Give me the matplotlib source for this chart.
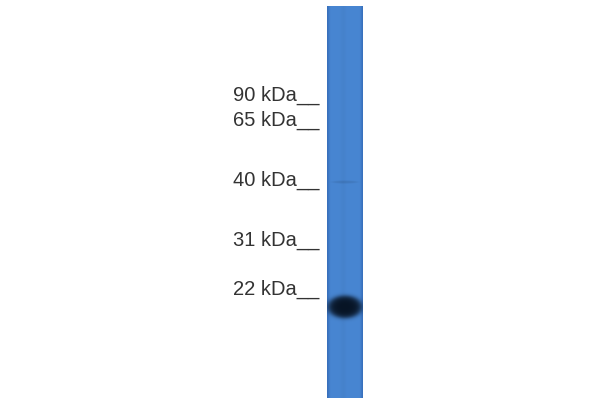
import numpy as np
import matplotlib
matplotlib.use("Agg")
import matplotlib.pyplot as plt

# Marker labels and their vertical positions (pixel rows in a 600x400 canvas)
marker_labels = ["90 kDa", "65 kDa", "40 kDa", "31 kDa", "22 kDa"]
marker_rows = [95, 120, 180, 240, 289]

# Lane extent
lane_left, lane_right, lane_top, lane_bottom = 327, 363, 6, 398
# Bands: (row, column centre, half-width, half-height, strength)
band_rows = [307, 182]
band_cols = [345, 345]
band_halfw = [18.5, 14]
band_halfh = [12, 1.5]
band_strength = [1.0, 0.12]

fig = plt.figure(figsize=(6, 4), dpi=100)
ax = fig.add_axes([0, 0, 1, 1])
ax.set_xlim(0, 600)
ax.set_ylim(400, 0)
ax.axis("off")

# Build lane image
W = 72
H = 392 * 2
xs = np.linspace(lane_left, lane_right, W)
ys = np.linspace(lane_top, lane_bottom, H)
X, Y = np.meshgrid(xs, ys)
base = np.array([72, 134, 210]) / 255.0
edge = np.array([56, 112, 188]) / 255.0
u = (X - lane_left) / (lane_right - lane_left)
edge_w = np.exp(-(u / 0.06) ** 2) + np.exp(-((1 - u) / 0.05) ** 2)
edge_w = np.clip(edge_w, 0, 1)
img = base[None, None, :] * (1 - edge_w[..., None]) + edge[None, None, :] * edge_w[..., None]
img = img * (1 - 0.03 * np.exp(-((u - 0.45) / 0.08) ** 2))[..., None]

dark = np.array([6, 18, 34]) / 255.0
for r, c, hw, hh, s in zip(band_rows, band_cols, band_halfw, band_halfh, band_strength):
    d = ((X - c) / hw) ** 2 + ((Y - r) / hh) ** 2
    a = s * np.clip(1.0 / (1.0 + np.exp((d - 0.8) * 5)), 0, 1)
    img = img * (1 - a[..., None]) + dark[None, None, :] * a[..., None]

ax.imshow(img, extent=[lane_left, lane_right, lane_bottom, lane_top],
          aspect="auto", interpolation="bilinear", zorder=1)

for lab, row in zip(marker_labels, marker_rows):
    ax.text(319, row, lab + "__", ha="right", va="center", fontsize=14.5,
            color="#333333", family="Liberation Sans")

fig.savefig("out.png", dpi=100)
